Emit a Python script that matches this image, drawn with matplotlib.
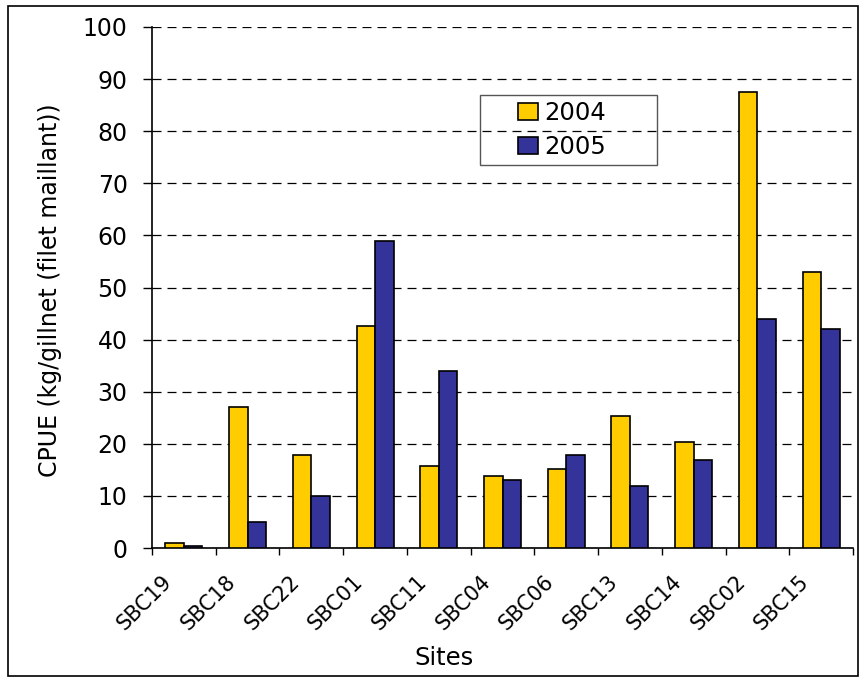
import numpy as np
import matplotlib
matplotlib.use('Agg')
import matplotlib.pyplot as plt
from matplotlib.patches import Rectangle

plt.rcParams['font.family'] = ['DejaVu Sans']

sites = ['SBC19', 'SBC18', 'SBC22', 'SBC01', 'SBC11', 'SBC04',
         'SBC06', 'SBC13', 'SBC14', 'SBC02', 'SBC15']
cpue_2004 = [1.0, 27.0, 17.9, 42.7, 15.8, 13.8, 15.2, 25.4, 20.4, 87.6, 52.9]
cpue_2005 = [0.35, 5.0, 10.0, 59.0, 34.0, 13.0, 17.9, 11.9, 16.9, 44.0, 42.1]
years = ['2004', '2005']
yticks = list(range(0, 101, 10))

W, H = 860, 679
fig = plt.figure(figsize=(W / 100, H / 100), dpi=100)
ax = fig.add_axes([152 / W, 1 - 548 / H, 701 / W, 521 / H])

x = np.arange(len(sites))
bw = 0.29
ax.bar(x - bw / 2, cpue_2004, bw, color='#FFCC00', edgecolor='black',
       linewidth=1.2, label=years[0], zorder=3)
ax.bar(x + bw / 2, cpue_2005, bw, color='#333399', edgecolor='black',
       linewidth=1.2, label=years[1], zorder=3)

ax.set_xlim(-0.5, len(sites) - 0.5)
ax.set_ylim(0, 100)
ax.set_yticks(yticks)
ax.yaxis.grid(True, color='black', linestyle=(0, (7.2, 4.8)), linewidth=0.9)
ax.set_axisbelow(True)

# ticks on the category boundaries, rotated labels hung left of each centre
ax.set_xticks(np.arange(-0.5, len(sites), 1.0))
ax.set_xticklabels([])
ax.set_xticks(x - 0.35, minor=True)
ax.set_xticklabels(sites, minor=True, rotation=45, ha='right', va='top',
                   rotation_mode='anchor', fontsize=15)
ax.tick_params(axis='x', which='minor', length=0, pad=17)
ax.tick_params(axis='x', which='major', length=5, width=1, direction='out')
ax.tick_params(axis='y', length=6.5, width=1, pad=11, labelsize=17)

for s in ['top', 'right']:
    ax.spines[s].set_visible(False)
for s in ['left', 'bottom']:
    ax.spines[s].set_linewidth(1.2)

fig.text(50 / W, 1 - 290 / H, 'CPUE (kg/gillnet (filet maillant))',
         rotation=90, ha='center', va='center', fontsize=17)
fig.text(444 / W, 1 - 658 / H, 'Sites', ha='center', va='center', fontsize=17.5)

leg = ax.legend(loc='center', bbox_to_anchor=(562 / W, 1 - 130 / H),
                bbox_transform=fig.transFigure, fontsize=17.5, frameon=False,
                handlelength=0.8, handleheight=0.72, handletextpad=0.25,
                borderpad=0, labelspacing=0.4, borderaxespad=0)

# legend box, wider than its content as in the original
fig.patches.append(Rectangle((480 / W, 1 - 165 / H), 177 / W, 70 / H,
                             transform=fig.transFigure, fill=False,
                             edgecolor='#555555', linewidth=1.0, zorder=5))
# outer chart border
fig.patches.append(Rectangle((8 / W, 3 / H), 850 / W, 670 / H,
                             transform=fig.transFigure, fill=False,
                             edgecolor='black', linewidth=1.2))

fig.savefig('out.png', dpi=100)
